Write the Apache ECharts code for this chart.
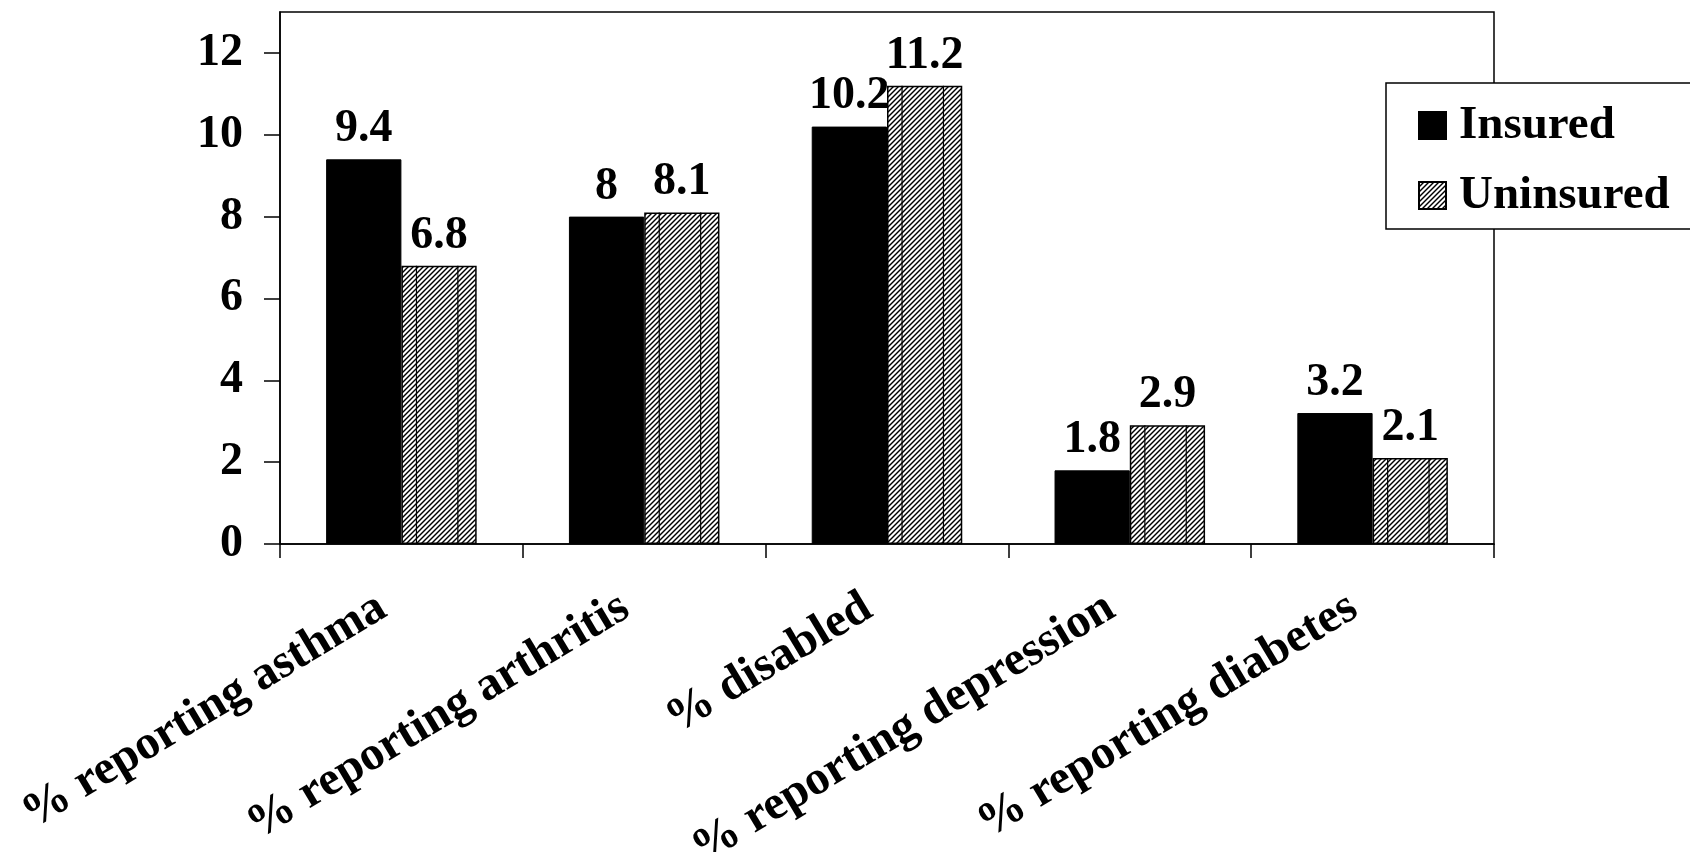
<!DOCTYPE html>
<html><head><meta charset="utf-8">
<script src="https://cdn.jsdelivr.net/npm/echarts@6/dist/echarts.min.js"></script>
<style>html,body{margin:0;padding:0;background:#fff}#c{width:1690px;height:852px}</style>
</head><body><div id="c"></div>
<script>
const categories = ['% reporting asthma','% reporting arthritis','% disabled','% reporting depression','% reporting diabetes'];
const insured = [9.4, 8, 10.2, 1.8, 3.2];
const uninsured = [6.8, 8.1, 11.2, 2.9, 2.1];
const yTicks = [0, 2, 4, 6, 8, 10, 12];
const seriesNames = ['Insured', 'Uninsured'];

function hatch() {
  const s = 5;
  const c = document.createElement('canvas');
  c.width = s; c.height = s;
  const g = c.getContext('2d');
  g.fillStyle = '#fff'; g.fillRect(0, 0, s, s);
  g.strokeStyle = '#000'; g.lineWidth = 1.4;
  for (const o of [-s, 0, s]) {
    g.beginPath(); g.moveTo(o - 1, s + 1); g.lineTo(o + s + 1, -1); g.stroke();
  }
  return c;
}
const pattern = { image: hatch(), repeat: 'repeat' };
const FONT = 'Liberation Serif';
const CAT_GAP = 0.38;

const chart = echarts.init(document.getElementById('c'));
chart.setOption({
  animation: false,
  backgroundColor: '#fff',
  grid: { left: 280, right: 196, top: 12, bottom: 308, containLabel: false, outerBoundsMode: 'none',
    show: true, borderColor: '#000', borderWidth: 1.5, backgroundColor: 'transparent' },
  legend: {
    orient: 'vertical', left: 1386, top: 83,
    padding: [19, 40, 10, 32], itemGap: 23,
    itemWidth: 27, itemHeight: 27, icon: 'rect',
    borderColor: '#000', borderWidth: 1.5, backgroundColor: '#fff',
    textStyle: { fontFamily: FONT, fontWeight: 'bold', fontSize: 47, color: '#000', padding: [0, 0, 0, 8] },
    data: seriesNames
  },
  xAxis: {
    type: 'category', data: categories,
    axisLine: { lineStyle: { color: '#000', width: 1.5 } },
    axisTick: { show: true, length: 14, lineStyle: { color: '#000', width: 1.5 } },
    axisLabel: { rotate: 31, margin: 49, interval: 0, padding: [0, 22, 0, 0], fontFamily: FONT, fontWeight: 'bold', fontSize: 48, color: '#000' }
  },
  yAxis: {
    type: 'value', min: 0, max: 13,
    axisLine: { show: true, lineStyle: { color: '#000', width: 1.5 } },
    axisTick: { show: true, length: 16, customValues: yTicks, lineStyle: { color: '#000', width: 1.5 } },
    axisLabel: { customValues: yTicks, margin: 37, fontFamily: FONT, fontWeight: 'bold', fontSize: 46, color: '#000' },
    splitLine: { show: false }
  },
  series: [
    { name: seriesNames[0], type: 'bar', data: insured, barGap: '0%', barCategoryGap: (CAT_GAP * 100) + '%',
      itemStyle: { color: '#000', borderColor: '#000', borderWidth: 1 },
      label: { show: true, position: 'top', distance: 7, fontFamily: FONT, fontWeight: 'bold', fontSize: 46, color: '#000' } },
    { name: seriesNames[1], type: 'bar', data: uninsured, barGap: '0%', barCategoryGap: (CAT_GAP * 100) + '%',
      itemStyle: { color: pattern, borderColor: '#000', borderWidth: 1.5 },
      label: { show: true, position: 'top', distance: 7, fontFamily: FONT, fontWeight: 'bold', fontSize: 46, color: '#000' } },
    { name: 'dividers', type: 'custom', silent: true, z: 3,
      data: uninsured.map((v, i) => [i, v]),
      renderItem: function (params, api) {
        const catW = api.size([1, 0])[0];
        const barW = catW * (1 - CAT_GAP) / 2;
        const top = api.coord([api.value(0), api.value(1)]);
        const base = api.coord([api.value(0), 0]);
        const x0 = top[0];
        return { type: 'group', children: [0.2, 0.75].map(f => ({
          type: 'line',
          shape: { x1: x0 + f * barW, y1: top[1], x2: x0 + f * barW, y2: base[1] },
          style: { stroke: '#000', lineWidth: 1.2 }
        })) };
      } }
  ]
});
</script></body></html>
